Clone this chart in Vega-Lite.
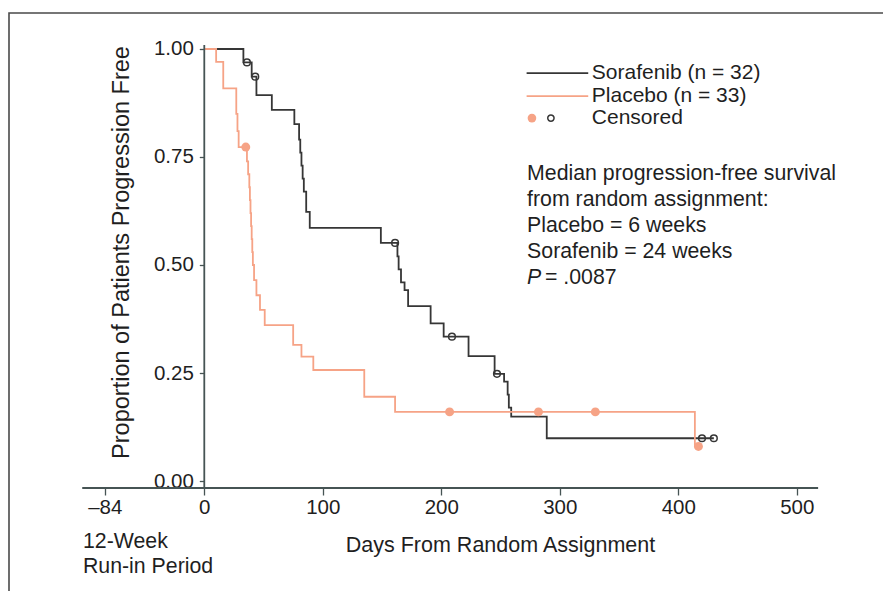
{
  "$schema": "https://vega.github.io/schema/vega-lite/v6.json",
  "width": 874,
  "height": 578,
  "autosize": "none",
  "padding": {"left": 9, "top": 13, "right": 0, "bottom": 0},
  "background": "white",
  "config": {
    "font": "Liberation Sans",
    "view": {"stroke": "#4a4a4a", "strokeWidth": 1.6, "strokeDash": [874, 1452, 578]},
    "text": {"font": "Liberation Sans", "fontSize": 21.3, "color": "#1f1f1f"},
    "axis": {"labelFont": "Liberation Sans", "titleFont": "Liberation Sans", "labelColor": "#1f1f1f", "titleColor": "#1f1f1f", "tickColor": "#465454", "domain": false, "grid": false}
  },
  "datasets": {
    "one": [{}],
    "curves": [
      {"arm": "Sorafenib", "day": 0, "surv": 1.0},
      {"arm": "Sorafenib", "day": 33, "surv": 0.969},
      {"arm": "Sorafenib", "day": 40, "surv": 0.936},
      {"arm": "Sorafenib", "day": 44, "surv": 0.893},
      {"arm": "Sorafenib", "day": 57, "surv": 0.859},
      {"arm": "Sorafenib", "day": 76, "surv": 0.826},
      {"arm": "Sorafenib", "day": 80, "surv": 0.79},
      {"arm": "Sorafenib", "day": 81, "surv": 0.76},
      {"arm": "Sorafenib", "day": 82, "surv": 0.73},
      {"arm": "Sorafenib", "day": 83, "surv": 0.70},
      {"arm": "Sorafenib", "day": 84, "surv": 0.67},
      {"arm": "Sorafenib", "day": 86, "surv": 0.623},
      {"arm": "Sorafenib", "day": 89, "surv": 0.586},
      {"arm": "Sorafenib", "day": 149, "surv": 0.551},
      {"arm": "Sorafenib", "day": 163, "surv": 0.52},
      {"arm": "Sorafenib", "day": 164, "surv": 0.49},
      {"arm": "Sorafenib", "day": 166, "surv": 0.46},
      {"arm": "Sorafenib", "day": 169, "surv": 0.442},
      {"arm": "Sorafenib", "day": 172, "surv": 0.405},
      {"arm": "Sorafenib", "day": 191, "surv": 0.365},
      {"arm": "Sorafenib", "day": 202, "surv": 0.334},
      {"arm": "Sorafenib", "day": 223, "surv": 0.289},
      {"arm": "Sorafenib", "day": 245, "surv": 0.248},
      {"arm": "Sorafenib", "day": 253, "surv": 0.23},
      {"arm": "Sorafenib", "day": 256, "surv": 0.2},
      {"arm": "Sorafenib", "day": 257, "surv": 0.17},
      {"arm": "Sorafenib", "day": 259, "surv": 0.149},
      {"arm": "Sorafenib", "day": 289, "surv": 0.099},
      {"arm": "Sorafenib", "day": 430, "surv": 0.099},
      {"arm": "Placebo", "day": 0, "surv": 1.0},
      {"arm": "Placebo", "day": 10, "surv": 0.97},
      {"arm": "Placebo", "day": 16, "surv": 0.909},
      {"arm": "Placebo", "day": 27, "surv": 0.85},
      {"arm": "Placebo", "day": 28, "surv": 0.81},
      {"arm": "Placebo", "day": 29, "surv": 0.773},
      {"arm": "Placebo", "day": 36, "surv": 0.74},
      {"arm": "Placebo", "day": 37, "surv": 0.71},
      {"arm": "Placebo", "day": 38, "surv": 0.68},
      {"arm": "Placebo", "day": 38.5, "surv": 0.65},
      {"arm": "Placebo", "day": 39, "surv": 0.62},
      {"arm": "Placebo", "day": 39.5, "surv": 0.59},
      {"arm": "Placebo", "day": 40, "surv": 0.56},
      {"arm": "Placebo", "day": 40.5, "surv": 0.53},
      {"arm": "Placebo", "day": 41, "surv": 0.5},
      {"arm": "Placebo", "day": 42, "surv": 0.465},
      {"arm": "Placebo", "day": 44, "surv": 0.43},
      {"arm": "Placebo", "day": 47, "surv": 0.396},
      {"arm": "Placebo", "day": 51, "surv": 0.361},
      {"arm": "Placebo", "day": 75, "surv": 0.315},
      {"arm": "Placebo", "day": 82, "surv": 0.288},
      {"arm": "Placebo", "day": 92, "surv": 0.257},
      {"arm": "Placebo", "day": 135, "surv": 0.195},
      {"arm": "Placebo", "day": 161, "surv": 0.16},
      {"arm": "Placebo", "day": 414, "surv": 0.08},
      {"arm": "Placebo", "day": 417, "surv": 0.08}
    ],
    "censored": [
      {"arm": "Sorafenib", "day": 36, "surv": 0.969},
      {"arm": "Sorafenib", "day": 43, "surv": 0.936},
      {"arm": "Sorafenib", "day": 161, "surv": 0.551},
      {"arm": "Sorafenib", "day": 209, "surv": 0.334},
      {"arm": "Sorafenib", "day": 247, "surv": 0.248},
      {"arm": "Sorafenib", "day": 420, "surv": 0.099},
      {"arm": "Sorafenib", "day": 430, "surv": 0.099},
      {"arm": "Placebo", "day": 35, "surv": 0.773},
      {"arm": "Placebo", "day": 207, "surv": 0.16},
      {"arm": "Placebo", "day": 282, "surv": 0.16},
      {"arm": "Placebo", "day": 330, "surv": 0.16},
      {"arm": "Placebo", "day": 417, "surv": 0.08}
    ]
  },
  "layer": [
    {
      "data": {"name": "curves"},
      "mark": {"type": "line", "interpolate": "step-after", "strokeWidth": 1.8},
      "encoding": {
        "x": {"field": "day", "type": "quantitative", "scale": {"domain": [-164.8, 572.75], "nice": false, "zero": false},
          "axis": {"orient": "bottom", "offset": -103, "values": [-84, 0, 100, 200, 300, 400, 500], "labelExpr": "datum.value < 0 ? '–84' : datum.label", "labelFontSize": 20.5, "tickSize": 7, "tickWidth": 1.3, "labelPadding": 2,
            "title": "Days From Random Assignment", "titleFontSize": 21.5, "titleFontWeight": "normal", "titleX": 491, "titleY": 57, "titleBaseline": "middle", "titleAlign": "center"}},
        "y": {"field": "surv", "type": "quantitative", "scale": {"domain": [-0.2546, 1.0833], "nice": false, "zero": false},
          "axis": {"orient": "left", "offset": -195.3, "values": [0, 0.25, 0.5, 0.75, 1], "format": ".2f", "labelFontSize": 20.5, "tickSize": 5, "tickWidth": 1.3, "labelPadding": 6,
            "title": "Proportion of Patients Progression Free", "titleFontSize": 23.5, "titleFontWeight": "normal", "titleX": -83, "titleY": 239, "titleAngle": 270, "titleBaseline": "middle", "titleAlign": "center"}},
        "color": {"field": "arm", "type": "nominal", "scale": {"domain": ["Sorafenib", "Placebo"], "range": ["#363636", "#f6a386"]}, "legend": null},
        "order": {"field": "day", "type": "quantitative"}
      }
    },
    {
      "data": {"name": "censored"},
      "transform": [{"filter": "datum.arm === 'Placebo'"}],
      "mark": {"type": "circle", "size": 80, "color": "#f6a386", "opacity": 1},
      "encoding": {
        "x": {"field": "day", "type": "quantitative"},
        "y": {"field": "surv", "type": "quantitative"}
      }
    },
    {
      "data": {"name": "censored"},
      "transform": [{"filter": "datum.arm === 'Sorafenib'"}],
      "mark": {"type": "point", "shape": "circle", "size": 45, "filled": false, "color": "#363636", "strokeWidth": 1.5, "opacity": 1},
      "encoding": {
        "x": {"field": "day", "type": "quantitative"},
        "y": {"field": "surv", "type": "quantitative"}
      }
    },
    {
      "data": {"name": "one"},
      "mark": {"type": "rule", "color": "#465454", "strokeWidth": 1.8},
      "encoding": {
        "x": {"datum": -103, "type": "quantitative"},
        "x2": {"datum": 518},
        "y": {"datum": -0.0162, "type": "quantitative"}
      }
    },
    {
      "data": {"name": "one"},
      "mark": {"type": "rule", "color": "#465454", "strokeWidth": 1.8},
      "encoding": {
        "x": {"datum": 0, "type": "quantitative"},
        "y": {"datum": -0.0162, "type": "quantitative"},
        "y2": {"datum": 1.009}
      }
    },
    {
      "data": {"name": "one"},
      "mark": {"type": "rule", "color": "#363636", "strokeWidth": 1.7},
      "encoding": {
        "x": {"datum": 272, "type": "quantitative"},
        "x2": {"datum": 324},
        "y": {"datum": 0.944, "type": "quantitative"}
      }
    },
    {
      "data": {"name": "one"},
      "mark": {"type": "rule", "color": "#f6a386", "strokeWidth": 1.7},
      "encoding": {
        "x": {"datum": 272, "type": "quantitative"},
        "x2": {"datum": 324},
        "y": {"datum": 0.891, "type": "quantitative"}
      }
    },
    {
      "data": {"name": "one"},
      "mark": {"type": "circle", "size": 75, "color": "#f6a386", "opacity": 1},
      "encoding": {
        "x": {"datum": 276.5, "type": "quantitative"},
        "y": {"datum": 0.84, "type": "quantitative"}
      }
    },
    {
      "data": {"name": "one"},
      "mark": {"type": "point", "shape": "circle", "size": 40, "filled": false, "color": "#363636", "strokeWidth": 1.5, "opacity": 1},
      "encoding": {
        "x": {"datum": 292.5, "type": "quantitative"},
        "y": {"datum": 0.84, "type": "quantitative"}
      }
    },
    {
      "data": {"name": "one"},
      "mark": {"type": "text", "align": "left", "baseline": "middle", "fontSize": 21},
      "encoding": {
        "x": {"datum": 327, "type": "quantitative"},
        "y": {"datum": 0.944, "type": "quantitative"},
        "text": {"value": "Sorafenib (n = 32)"}
      }
    },
    {
      "data": {"name": "one"},
      "mark": {"type": "text", "align": "left", "baseline": "middle", "fontSize": 21},
      "encoding": {
        "x": {"datum": 327, "type": "quantitative"},
        "y": {"datum": 0.891, "type": "quantitative"},
        "text": {"value": "Placebo (n = 33)"}
      }
    },
    {
      "data": {"name": "one"},
      "mark": {"type": "text", "align": "left", "baseline": "middle", "fontSize": 21},
      "encoding": {
        "x": {"datum": 327, "type": "quantitative"},
        "y": {"datum": 0.84, "type": "quantitative"},
        "text": {"value": "Censored"}
      }
    },
    {
      "data": {"name": "one"},
      "mark": {"type": "text", "align": "left", "baseline": "alphabetic", "lineHeight": 26},
      "encoding": {
        "x": {"datum": 272.4, "type": "quantitative"},
        "y": {"datum": 0.697, "type": "quantitative"},
        "text": {"value": ["Median progression-free survival", "from random assignment:", "Placebo = 6 weeks", "Sorafenib = 24 weeks"]}
      }
    },
    {
      "data": {"name": "one"},
      "mark": {"type": "text", "align": "left", "baseline": "alphabetic", "fontStyle": "italic"},
      "encoding": {
        "x": {"datum": 272.4, "type": "quantitative"},
        "y": {"datum": 0.456, "type": "quantitative"},
        "text": {"value": "P"}
      }
    },
    {
      "data": {"name": "one"},
      "mark": {"type": "text", "align": "left", "baseline": "alphabetic"},
      "encoding": {
        "x": {"datum": 287.5, "type": "quantitative"},
        "y": {"datum": 0.456, "type": "quantitative"},
        "text": {"value": "= .0087"}
      }
    },
    {
      "data": {"name": "one"},
      "mark": {"type": "text", "align": "left", "baseline": "alphabetic", "lineHeight": 25},
      "encoding": {
        "x": {"datum": -102.4, "type": "quantitative"},
        "y": {"datum": -0.155, "type": "quantitative"},
        "text": {"value": ["12-Week", "Run-in Period"]}
      }
    }
  ]
}
